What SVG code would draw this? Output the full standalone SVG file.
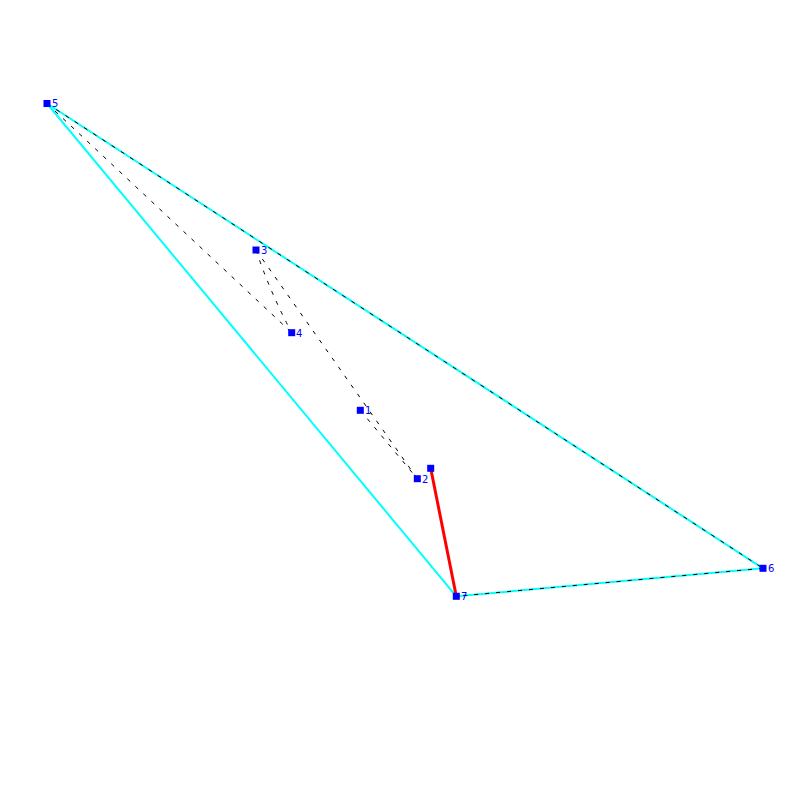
<svg xmlns="http://www.w3.org/2000/svg" width="800" height="800" viewBox="0 0 800 800">
<style>
.cy{stroke:#00e5ee;stroke-width:2;fill:none}
.cy{stroke:#00ffff}
.dash{stroke:#000;stroke-width:1;stroke-dasharray:4,7;fill:none}
.red{stroke:#ff0000;stroke-width:3;fill:none}
.nd{fill:#0000ff}
.lb{fill:#0000ff;font-family:"DejaVu Sans","Liberation Sans",sans-serif;font-size:10px}
</style>
<rect width="800" height="800" fill="#fff"/>
<g id="connectors">
<line class="cy" x1="47" y1="103.5" x2="763" y2="568.3"/>
<line class="cy" x1="763" y1="568.3" x2="456.3" y2="596.3"/>
<line class="cy" x1="456.3" y1="596.3" x2="47" y2="103.5"/>
<line class="dash" x1="47" y1="103.5" x2="763" y2="568.3"/>
<line class="dash" x1="763" y1="568.3" x2="456.3" y2="596.3"/>
<line class="dash" x1="47" y1="103.5" x2="291.7" y2="332.7"/>
<path class="dash" d="M256,250 Q270,292 291.7,332.7"/>
<line class="dash" x1="256" y1="250" x2="417.3" y2="478.7"/>
<line class="dash" x1="360.3" y1="410.3" x2="417.3" y2="478.7"/>
<line class="red" x1="430.7" y1="468.3" x2="456.3" y2="596.3"/>
</g>
<g id="node5"><rect class="nd" x="43.5" y="100" width="7" height="7"/><text class="lb" x="52" y="107">5</text></g>
<g id="node3"><rect class="nd" x="252.5" y="246.5" width="7" height="7"/><text class="lb" x="261" y="254">3</text></g>
<g id="node4"><rect class="nd" x="288.2" y="329.2" width="7" height="7"/><text class="lb" x="296" y="336.5">4</text></g>
<g id="node1"><rect class="nd" x="356.8" y="406.8" width="7" height="7"/><text class="lb" x="365" y="414">1</text></g>
<g id="node2"><rect class="nd" x="413.8" y="475.2" width="7" height="7"/><text class="lb" x="422" y="482.5">2</text></g>
<g id="node8"><rect class="nd" x="427.2" y="464.8" width="7" height="7"/></g>
<g id="node7"><rect class="nd" x="452.8" y="592.8" width="7" height="7"/><text class="lb" x="461" y="600">7</text></g>
<g id="node6"><rect class="nd" x="759.5" y="564.8" width="7" height="7"/><text class="lb" x="768" y="572">6</text></g>
</svg>
